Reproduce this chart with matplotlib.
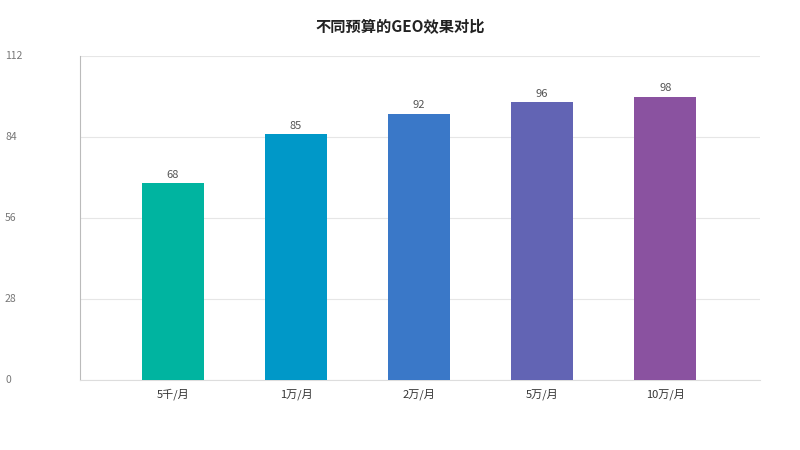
import matplotlib
matplotlib.use("Agg")
import matplotlib.pyplot as plt
from matplotlib.transforms import blended_transform_factory

plt.rcParams['font.family'] = ['Noto Sans CJK SC', 'DejaVu Sans']

categories = ['5千/月', '1万/月', '2万/月', '5万/月', '10万/月']
values = [68, 85, 92, 96, 98]
colors = ['#00B4A0', '#0098C8', '#3A78C8', '#6264B4', '#8A52A0']
yticks = [0, 28, 56, 84, 112]

fig = plt.figure(figsize=(8, 4.5), dpi=100)
ax = fig.add_axes([80/800, 1-380/450, 680/800, 324/450])
x = list(range(len(categories)))
ax.bar(x, values, width=0.5, color=colors, zorder=3)
for xi, v in zip(x, values):
    ax.text(xi, v + 1.2, str(v), ha='center', va='bottom', fontsize=8, color='#555555')
ax.set_xlim(-0.756, 4.77)
ax.set_ylim(0, 112)
ax.set_xticks(x)
ax.set_xticklabels(categories, fontsize=8, color='#333333')
ax.tick_params(axis='x', length=0, pad=6)
ax.set_yticks(yticks)
ax.set_yticklabels([])
ax.tick_params(axis='y', length=0)
ax.grid(axis='y', color='#e6e6e6', linewidth=0.8, zorder=0)
tr = blended_transform_factory(fig.transFigure, ax.transData)
for t in yticks:
    ax.text(5/800, t, str(t), transform=tr, ha='left', va='center', fontsize=7.5, color='#777777')
for s in ['top', 'right']:
    ax.spines[s].set_visible(False)
ax.spines['left'].set_color('#bbbbbb')
ax.spines['bottom'].set_color('#dddddd')
fig.text(0.5, 1-27/450, '不同预算的GEO效果对比', ha='center', va='center', fontsize=11, fontweight='bold', color='#222222')
fig.savefig('out.png', dpi=100)
